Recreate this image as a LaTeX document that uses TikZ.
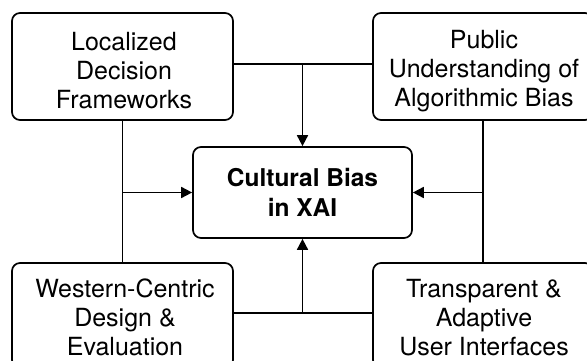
\documentclass[tikz,border=0pt]{standalone}
\usepackage{fontspec}
\setmainfont{TeX Gyre Heros}
\usetikzlibrary{arrows.meta}
\begin{document}
\begin{tikzpicture}[x=1pt,y=-1pt,
  box/.style={draw=black, line width=1.7pt, rounded corners=8pt, inner sep=0pt},
  txt/.style={align=center, inner sep=0pt, font=\fontsize{25}{29}\selectfont},
  conn/.style={draw=black, line width=1.7pt},
  arr/.style={conn, -{Triangle[length=11pt,width=11pt]}}]
\useasboundingbox (0,0) rectangle (587,361);
% boxes
\node[box, minimum width=221pt, minimum height=107pt] (tl) at (122.5,66.5) {};
\node[box, minimum width=220pt, minimum height=107pt] (tr) at (483,66.5) {};
\node[box, minimum width=221pt, minimum height=105pt] (bl) at (122.5,315.5) {};
\node[box, minimum width=220pt, minimum height=105pt] (br) at (483,315.5) {};
\node[box, minimum width=219pt, minimum height=91pt, align=center,
      font=\fontsize{24.5}{30}\selectfont\bfseries] (c) at (302.5,192.5) {Cultural Bias\\in XAI};
% texts
\node[txt] (tlt) at (124,70.5) {Localized\\Decision\\Frameworks};
\node[txt] (trt) at (484,71) {Public\\Understanding of\\Algorithmic Bias};
\node[txt] (blt) at (125,317.5) {Western-Centric\\Design \&\\Evaluation};
\node[txt] (brt) at (484,317.5) {Transparent \&\\Adaptive\\User Interfaces};
% connectors
\coordinate (tj) at (302.5,64);
\coordinate (bj) at (302.5,313);
\draw[conn] (tl.east |- tj) -- (tr.west |- tj);
\draw[arr] (tj) -- (c.north);
\draw[conn] (bl.east |- bj) -- (br.west |- bj);
\draw[arr] (bj) -- (c.south);
\draw[conn] (tl.south) -- (bl.north);
\draw[arr] (tl.south |- c.west) -- (c.west);
\draw[conn] (tr.south) -- (br.north);
\draw[arr] (tr.south |- c.east) -- (c.east);
\end{tikzpicture}
\end{document}
